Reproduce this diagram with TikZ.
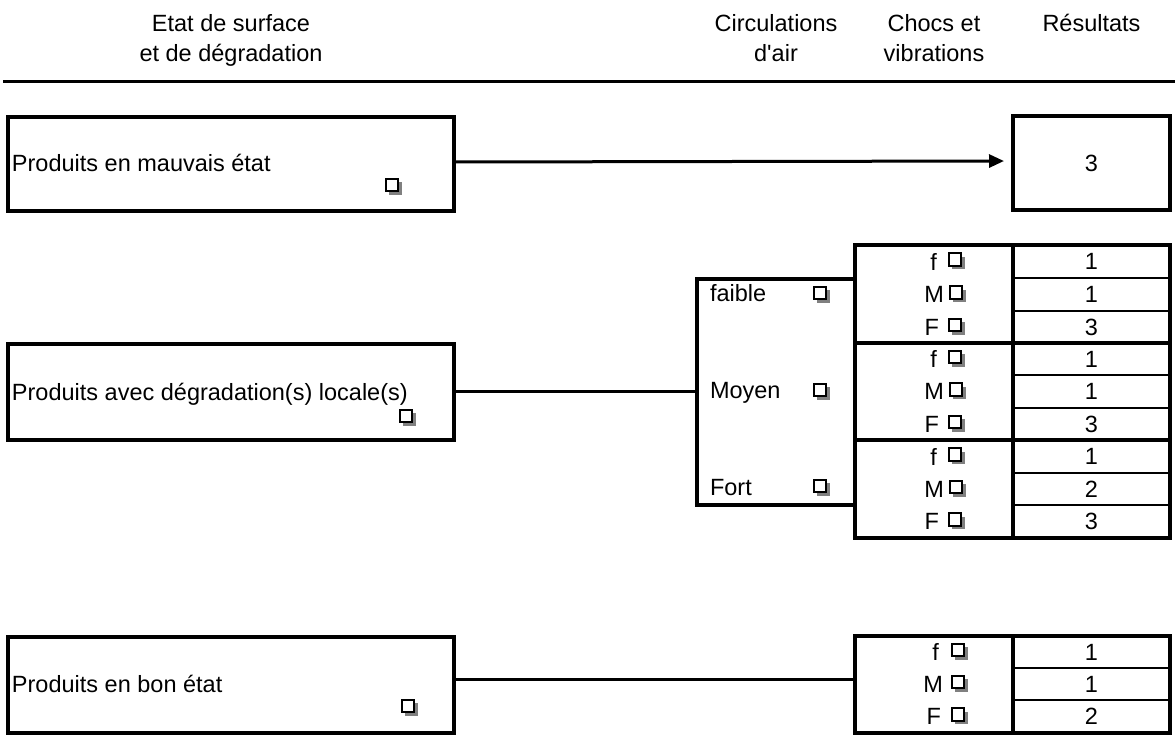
\documentclass[tikz,border=0pt]{standalone}
\usepackage{fontspec}
\setmainfont{Liberation Sans}
\usetikzlibrary{arrows.meta,shadows}
\begin{document}
\begin{tikzpicture}[x=1pt,y=-1pt,
  every node/.style={font=\fontsize{23.5}{27}\selectfont, inner sep=0pt, outer sep=0pt},
  frame/.style={draw=black, line width=4pt, inner sep=0pt},
  cell/.style={minimum width=157pt, minimum height=32.5pt},
  thinrule/.style={draw=black, line width=2pt},
  conn/.style={draw=black, line width=3pt},
  chk/.style={draw=black, line width=1.7pt, fill=white, minimum size=12.5pt, inner sep=0pt,
    general shadow={fill=black!50, draw=none, shadow xshift=3.5pt, shadow yshift=-3.5pt}},
  lbl/.style={anchor=base west},
  hdr/.style={anchor=base},
  choc/.style={anchor=east}
]
\useasboundingbox (0,0) rectangle (1176,743);

% headers
\node[hdr] (h1a) at (231,32) {Etat de surface};
\node[hdr] (h1b) at (231,62) {et de dégradation};
\node[hdr] (h2a) at (776,32) {Circulations};
\node[hdr] (h2b) at (776,62) {d\textquotesingle air};
\node[hdr] (h3a) at (934,32) {Chocs et};
\node[hdr] (h3b) at (934,62) {vibrations};
\node[hdr] (h4a) at (1091.5,32) {Résultats};
\coordinate (hl0) at (3,81.5);
\coordinate (hl1) at (1175,81.5);
\draw[line width=3.5pt] (hl0) -- (hl1);

% row 1 : mauvais etat
\node[frame, minimum width=446pt, minimum height=94pt] (b1) at (231,164) {};
\node[lbl] (t1) at (12,172) {Produits en mauvais état};
\node[chk] (k1) at (392,185) {};
\node[frame, minimum width=157pt, minimum height=94pt] (r1) at (1091.5,163) {3};
\draw[conn, -{Triangle[length=15pt,width=13pt]}, shorten >=9pt]
  ([yshift=2pt]b1.east) -- ([yshift=2pt]r1.west);

% row 2 : degradation locale
\node[frame, minimum width=446pt, minimum height=96pt] (b2) at (231,392) {};
\node[lbl] (t2) at (12,400) {Produits avec dégradation(s) locale(s)};
\node[chk] (k2) at (406,416) {};
\node[frame, minimum width=158pt, minimum height=226pt] (circ) at (776,392) {};
\draw[conn] (b2.east) -- (circ.west);
\node[lbl] (c1) at (710,302) {faible};
\node[lbl] (c2) at (710,399) {Moyen};
\node[lbl] (c3) at (710,495) {Fort};
\node[chk] (kc1) at (820,293) {};
\node[chk] (kc2) at (820,390) {};
\node[chk] (kc3) at (820,486) {};

% result cells
\node[cell] (r11) at (1091.5,261.5) {1};
\node[cell] (r12) at (1091.5,294.5) {1};
\node[cell] (r13) at (1091.5,327) {3};
\node[cell] (r21) at (1091.5,359) {1};
\node[cell] (r22) at (1091.5,391.5) {1};
\node[cell] (r23) at (1091.5,424) {3};
\node[cell] (r31) at (1091.5,456.5) {1};
\node[cell] (r32) at (1091.5,489) {2};
\node[cell] (r33) at (1091.5,521.5) {3};
\draw[thinrule] (r11.south west) -- (r11.south east);
\draw[thinrule] (r12.south west) -- (r12.south east);
\draw[thinrule] (r21.south west) -- (r21.south east);
\draw[thinrule] (r22.south west) -- (r22.south east);
\draw[thinrule] (r31.south west) -- (r31.south east);
\draw[thinrule] (r32.south west) -- (r32.south east);

% choc labels
\foreach \g/\a/\b/\c in {1/261.5/294.5/327, 2/359/391.5/424, 3/456.5/489/521.5}{
  \node[choc] (f\g) at (937,\a) {f};
  \node[choc] (m\g) at (944,\b) {M};
  \node[choc] (F\g) at (939,\c) {F};
  \node[chk] (kf\g) at (955,\a-2) {};
  \node[chk] (km\g) at (956,\b-2) {};
  \node[chk] (kF\g) at (955,\c-2) {};
}

\node[frame, minimum width=158pt, minimum height=98pt] (cg1) at (934,294) {};
\node[frame, minimum width=158pt, minimum height=97pt] (cg2) at (934,391.5) {};
\node[frame, minimum width=158pt, minimum height=98pt] (cg3) at (934,489) {};
\node[frame, minimum width=157pt, minimum height=98pt] (rg1) at (1091.5,294) {};
\node[frame, minimum width=157pt, minimum height=97pt] (rg2) at (1091.5,391.5) {};
\node[frame, minimum width=157pt, minimum height=98pt] (rg3) at (1091.5,489) {};

% row 3 : bon etat
\node[frame, minimum width=446pt, minimum height=96pt] (b3) at (231,685) {};
\node[lbl] (t3) at (12,692) {Produits en bon état};
\node[chk] (k3) at (408,706) {};

\node[cell] (r41) at (1091.5,652) {1};
\node[cell] (r42) at (1091.5,684) {1};
\node[cell] (r43) at (1091.5,716.5) {2};
\draw[thinrule] (r41.south west) -- (r41.south east);
\draw[thinrule] (r42.south west) -- (r42.south east);
\node[choc] (f4) at (939,652) {f};
\node[choc] (m4) at (943,684) {M};
\node[choc] (F4) at (941,716.5) {F};
\node[chk] (kf4) at (958,650) {};
\node[chk] (km4) at (958,682) {};
\node[chk] (kF4) at (958,714.5) {};
\node[frame, minimum width=158pt, minimum height=97pt] (cg4) at (934,684.5) {};
\node[frame, minimum width=157pt, minimum height=97pt] (rg4) at (1091.5,684.5) {};
\draw[conn] ([yshift=5.5pt]b3.east) -- ([yshift=5.5pt]b3.east -| cg4.west);
\end{tikzpicture}
\end{document}
